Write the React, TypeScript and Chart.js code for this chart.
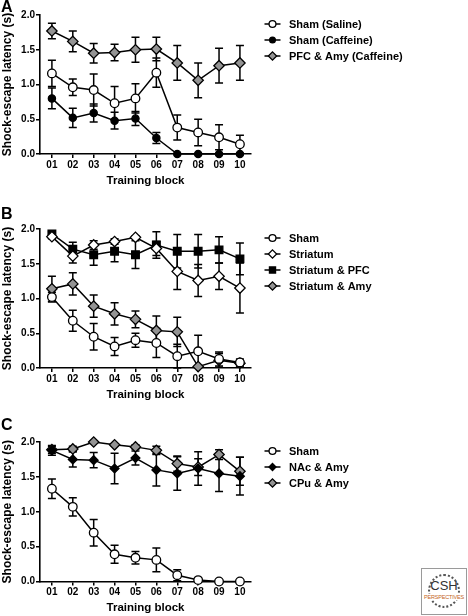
import React, { useEffect, useRef } from 'react';
import { Chart, registerables } from 'chart.js';

Chart.register(...registerables);

// ---------- data ----------
const blocks = ['01', '02', '03', '04', '05', '06', '07', '08', '09', '10'];
const yTickStep = 0.5;

// Panel A
const aShamSaline = [1.16, 0.96, 0.92, 0.73, 0.8, 1.17, 0.38, 0.31, 0.24, 0.14];
const aShamSalineErr = [0.19, 0.12, 0.23, 0.24, 0.21, 0.21, 0.18, 0.19, 0.18, 0.13];
const aShamCaffeine = [0.8, 0.52, 0.59, 0.48, 0.51, 0.23, 0, 0, 0, 0];
const aShamCaffeineErr = [0.15, 0.14, 0.13, 0.12, 0.1, 0.08, 0, 0, 0, 0];
const aPfcAmy = [1.77, 1.62, 1.45, 1.46, 1.5, 1.51, 1.31, 1.06, 1.27, 1.31];
const aPfcAmyErr = [0.11, 0.15, 0.14, 0.12, 0.18, 0.17, 0.25, 0.25, 0.25, 0.25];

// Panel B
const bSham = [1.02, 0.68, 0.45, 0.31, 0.4, 0.36, 0.17, 0.24, 0.13, 0.08];
const bShamErr = [0.07, 0.15, 0.19, 0.13, 0.1, 0.21, 0.17, 0.23, 0.1, 0.05];
const bStriatum = [1.89, 1.61, 1.77, 1.82, 1.88, 1.72, 1.39, 1.26, 1.32, 1.15];
const bStriatumErr = [0.03, 0.1, 0.06, 0.04, 0.02, 0.1, 0.26, 0.23, 0.19, 0.36];
const bStriatumPfc = [1.93, 1.71, 1.63, 1.68, 1.63, 1.77, 1.68, 1.68, 1.7, 1.57];
const bStriatumPfcErr = [0.03, 0.1, 0.15, 0.15, 0.2, 0.19, 0.24, 0.24, 0.19, 0.23];
const bStriatumAmy = [1.14, 1.21, 0.89, 0.78, 0.7, 0.54, 0.52, 0.02, 0.11, 0.07];
const bStriatumAmyErr = [0.18, 0.16, 0.16, 0.16, 0.12, 0.21, 0.21, 0, 0.1, 0.04];

// Panel C
const cSham = [1.33, 1.07, 0.7, 0.39, 0.34, 0.31, 0.09, 0.02, 0, 0];
const cShamErr = [0.14, 0.13, 0.19, 0.13, 0.09, 0.17, 0.08, 0.01, 0, 0];
const cNacAmy = [1.88, 1.75, 1.74, 1.62, 1.77, 1.6, 1.55, 1.62, 1.55, 1.51];
const cNacAmyErr = [0.07, 0.11, 0.11, 0.22, 0.1, 0.23, 0.24, 0.24, 0.26, 0.27];
const cCpuAmy = [1.89, 1.9, 2.0, 1.96, 1.93, 1.88, 1.69, 1.64, 1.82, 1.58];
const cCpuAmyErr = [0.05, 0.04, 0.01, 0.01, 0.03, 0.06, 0.11, 0.12, 0.07, 0.2];

// ---------- styles ----------
const FONT = '"Liberation Sans", Arial, Helvetica, sans-serif';
const GRAY = '#939393';

type MarkerStyle = { shape: 'circle' | 'rect' | 'rectRot'; r: number; fill: string };
const openCircle: MarkerStyle = { shape: 'circle', r: 4.3, fill: '#ffffff' };
const filledCircle: MarkerStyle = { shape: 'circle', r: 3.6, fill: '#000000' };
const grayDiamond: MarkerStyle = { shape: 'rectRot', r: 5.2, fill: GRAY };
const openDiamond: MarkerStyle = { shape: 'rectRot', r: 5.2, fill: '#ffffff' };
const blackSquare: MarkerStyle = { shape: 'rect', r: 5.4, fill: '#000000' };
const blackDiamond: MarkerStyle = { shape: 'rectRot', r: 4.4, fill: '#000000' };

type Series = { label: string; values: number[]; errors: number[]; marker: MarkerStyle };
type PanelCfg = {
  letter: string;
  canvasTop: number;
  canvasH: number;
  areaTop: number;
  areaBottom: number;
  letterY: number;
  legendY: number;
  series: Series[];
};

const panels: PanelCfg[] = [
  {
    letter: 'A', canvasTop: 0, canvasH: 196, areaTop: 15, areaBottom: 154, letterY: 7.5, legendY: 24,
    series: [
      { label: 'Sham (Saline)', values: aShamSaline, errors: aShamSalineErr, marker: openCircle },
      { label: 'Sham (Caffeine)', values: aShamCaffeine, errors: aShamCaffeineErr, marker: filledCircle },
      { label: 'PFC & Amy (Caffeine)', values: aPfcAmy, errors: aPfcAmyErr, marker: grayDiamond },
    ],
  },
  {
    letter: 'B', canvasTop: 198, canvasH: 214, areaTop: 229, areaBottom: 368, letterY: 214.5, legendY: 238,
    series: [
      { label: 'Sham', values: bSham, errors: bShamErr, marker: openCircle },
      { label: 'Striatum', values: bStriatum, errors: bStriatumErr, marker: openDiamond },
      { label: 'Striatum & PFC', values: bStriatumPfc, errors: bStriatumPfcErr, marker: blackSquare },
      { label: 'Striatum & Amy', values: bStriatumAmy, errors: bStriatumAmyErr, marker: grayDiamond },
    ],
  },
  {
    letter: 'C', canvasTop: 412, canvasH: 204, areaTop: 442, areaBottom: 581.5, letterY: 425.5, legendY: 451,
    series: [
      { label: 'Sham', values: cSham, errors: cShamErr, marker: openCircle },
      { label: 'NAc & Amy', values: cNacAmy, errors: cNacAmyErr, marker: blackDiamond },
      { label: 'CPu & Amy', values: cCpuAmy, errors: cCpuAmyErr, marker: grayDiamond },
    ],
  },
];

const AREA_LEFT = 40;
const AREA_RIGHT = 251;
const WIDTH = 468;

function drawMarker(ctx: CanvasRenderingContext2D, m: MarkerStyle, x: number, y: number, scale: number) {
  const r = m.r * scale;
  ctx.beginPath();
  if (m.shape === 'circle') {
    ctx.arc(x, y, r, 0, Math.PI * 2);
  } else if (m.shape === 'rect') {
    const s = r * Math.SQRT1_2;
    ctx.rect(x - s, y - s, 2 * s, 2 * s);
  } else {
    ctx.moveTo(x, y - r);
    ctx.lineTo(x + r, y);
    ctx.lineTo(x, y + r);
    ctx.lineTo(x - r, y);
    ctx.closePath();
  }
  ctx.fillStyle = m.fill;
  ctx.fill();
  ctx.lineWidth = 1.3;
  ctx.strokeStyle = '#000';
  ctx.stroke();
}

const errorBarPlugin = {
  id: 'errorBars',
  beforeDatasetsDraw(chart: any) {
    const ctx = chart.ctx as CanvasRenderingContext2D;
    const xs = chart.scales.x;
    const ys = chart.scales.y;
    ctx.save();
    ctx.strokeStyle = '#000';
    ctx.lineWidth = 1.5;
    chart.data.datasets.forEach((ds: any) => {
      const errs: number[] = ds.errors || [];
      ds.data.forEach((p: any, i: number) => {
        const e = errs[i];
        if (!e) return;
        const px = xs.getPixelForValue(p.x);
        const yt = ys.getPixelForValue(p.y + e);
        const yb = ys.getPixelForValue(Math.max(0, p.y - e));
        ctx.beginPath();
        ctx.moveTo(px, yt);
        ctx.lineTo(px, yb);
        ctx.moveTo(px - 4, yt);
        ctx.lineTo(px + 4, yt);
        ctx.moveTo(px - 4, yb);
        ctx.lineTo(px + 4, yb);
        ctx.stroke();
      });
    });
    ctx.restore();
  },
};

const decorPlugin = {
  id: 'panelDecor',
  afterDraw(chart: any) {
    const opts = chart.options.plugins.panelDecor;
    const ctx = chart.ctx as CanvasRenderingContext2D;
    ctx.save();
    // panel letter
    ctx.fillStyle = '#000';
    ctx.font = `bold 16px ${FONT}`;
    ctx.textBaseline = 'middle';
    ctx.textAlign = 'left';
    ctx.fillText(opts.letter, 1, opts.letterY);
    // legend
    ctx.font = `bold 11px ${FONT}`;
    chart.data.datasets.forEach((ds: any, i: number) => {
      const y = opts.legendY + i * 16;
      const mx = 272.5;
      ctx.beginPath();
      ctx.moveTo(mx - 8, y);
      ctx.lineTo(mx + 8, y);
      ctx.lineWidth = 1.5;
      ctx.strokeStyle = '#000';
      ctx.stroke();
      drawMarker(ctx, ds.marker, mx, y, 0.8);
      ctx.fillStyle = '#000';
      ctx.fillText(ds.label, 289, y + 0.5);
    });
    ctx.restore();
  },
};

function buildConfig(p: PanelCfg): any {
  const xAxisH = p.canvasTop + p.canvasH - p.areaBottom;
  const titleLine = 11.5 * 1.2;
  const titleCenter = p.areaBottom + 26.5;
  const titlePadBottom = p.canvasTop + p.canvasH - titleCenter - titleLine / 2;
  const tickFont = { family: FONT, size: 10, weight: 'bold' as const };
  return {
    type: 'line',
    data: {
      datasets: p.series.map((s) => ({
        label: s.label,
        data: s.values.map((v, i) => ({ x: i + 1, y: v })),
        errors: s.errors,
        marker: s.marker,
        borderColor: '#000',
        borderWidth: 1.5,
        pointStyle: s.marker.shape,
        pointRadius: s.marker.r,
        pointBackgroundColor: s.marker.fill,
        pointBorderColor: '#000',
        pointBorderWidth: 1.3,
        pointHoverRadius: s.marker.r,
        fill: false,
        tension: 0,
        clip: false,
      })),
    },
    options: {
      animation: false,
      responsive: false,
      maintainAspectRatio: false,
      events: [],
      layout: {
        padding: { left: 0, right: WIDTH - AREA_RIGHT, top: p.areaTop - p.canvasTop, bottom: 0 },
      },
      plugins: {
        legend: { display: false },
        tooltip: { enabled: false },
        panelDecor: { letter: p.letter, letterY: p.letterY - p.canvasTop, legendY: p.legendY - p.canvasTop },
      },
      scales: {
        x: {
          type: 'linear',
          min: 0.43,
          max: 10.53,
          afterBuildTicks: (s: any) => {
            s.ticks = blocks.map((_, i) => ({ value: i + 1 }));
          },
          afterFit: (s: any) => {
            s.height = xAxisH;
          },
          ticks: {
            callback: (v: number) => blocks[Math.round(v) - 1],
            font: tickFont,
            color: '#000',
            padding: 1,
            autoSkip: false,
            maxRotation: 0,
          },
          grid: { display: true, drawOnChartArea: false, drawTicks: true, tickLength: 4, color: '#000', lineWidth: 1.5 },
          border: { display: true, color: '#000', width: 1.6 },
          title: {
            display: true,
            text: 'Training block',
            color: '#000',
            font: { family: FONT, size: 11.5, weight: 'bold' },
            padding: { top: 0, bottom: titlePadBottom },
          },
        },
        y: {
          type: 'linear',
          min: 0,
          max: 2,
          afterFit: (s: any) => {
            s.width = AREA_LEFT;
          },
          ticks: {
            stepSize: yTickStep,
            callback: (v: number) => Number(v).toFixed(1),
            font: tickFont,
            color: '#000',
            padding: 1,
          },
          grid: { display: true, drawOnChartArea: false, drawTicks: true, tickLength: 4, color: '#000', lineWidth: 1.5 },
          border: { display: true, color: '#000', width: 1.6 },
          title: {
            display: true,
            text: 'Shock-escape latency (s)',
            color: '#000',
            font: { family: FONT, size: 12, weight: 'bold' },
            padding: { top: 0.5, bottom: 0 },
          },
        },
      },
    },
    plugins: [errorBarPlugin, decorPlugin],
  };
}

function Panel({ cfg }: { cfg: PanelCfg }) {
  const ref = useRef<HTMLCanvasElement | null>(null);
  useEffect(() => {
    if (!ref.current) return;
    const chart = new Chart(ref.current, buildConfig(cfg));
    return () => chart.destroy();
  }, [cfg]);
  return (
    <canvas
      ref={ref}
      width={WIDTH}
      height={cfg.canvasH}
      style={{ position: 'absolute', left: 0, top: cfg.canvasTop, width: WIDTH, height: cfg.canvasH }}
    />
  );
}

function Logo() {
  return (
    <div
      style={{
        position: 'absolute',
        left: 421,
        top: 568,
        width: 44,
        height: 45,
        border: '1px solid #9a9a9a',
        background: '#fff',
        fontFamily: FONT,
        textAlign: 'center',
        boxSizing: 'content-box',
      }}
    >
      <div
        style={{
          position: 'absolute',
          left: 6,
          top: 5,
          width: 32,
          height: 34,
          borderRadius: '50%',
          border: '2px dotted #555',
          boxSizing: 'border-box',
        }}
      />
      <div style={{ position: 'absolute', left: 0, width: 44, top: 10, fontSize: 13, color: '#333', lineHeight: '14px' }}>CSH</div>
      <div
        style={{
          position: 'absolute',
          left: 0,
          width: 44,
          top: 25,
          fontSize: 5.5,
          color: '#c4641c',
          lineHeight: '6px',
          background: '#fff',
          letterSpacing: -0.2,
        }}
      >
        PERSPECTIVES
      </div>
    </div>
  );
}

export default function App() {
  return (
    <div style={{ position: 'absolute', left: 0, top: 0, width: WIDTH, height: 616, background: '#fff', overflow: 'hidden' }}>
      {panels.map((p) => (
        <Panel key={p.letter} cfg={p} />
      ))}
      <Logo />
    </div>
  );
}
